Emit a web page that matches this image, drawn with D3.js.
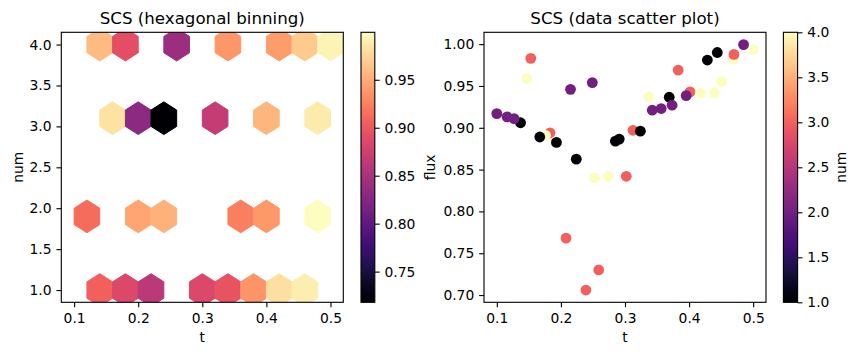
<!DOCTYPE html>
<html><head><meta charset="utf-8">
<script src="https://cdn.jsdelivr.net/npm/d3@7"></script>
<style>
body{margin:0;background:#fff;}
svg text{font-family:"DejaVu Sans",sans-serif;fill:#000;}
</style></head><body>
<svg id="chart" width="858" height="355"></svg>
<script>
// ---- data (drawing order as in the reference) ----
const tValues = [
  0.153,0.183,0.208,0.239,0.259,0.302,0.3125,0.383,0.4015,
  0.147,0.176,0.2525,0.2735,0.337,0.418,0.4395,0.451,0.469,0.500,
  0.470,
  0.137,0.167,0.193,0.224,0.285,0.291,0.324,0.369,0.4285,0.444,
  0.100,0.116,0.127,0.215,0.249,0.3425,0.3565,0.3735,0.3955,0.485
];
const fluxValues = [
  0.983,0.894,0.768,0.706,0.730,0.842,0.897,0.969,0.943,
  0.959,0.891,0.840,0.842,0.937,0.9415,0.9415,0.955,0.982,0.9935,
  0.9877,
  0.906,0.889,0.8825,0.8625,0.884,0.8865,0.896,0.9365,0.981,0.990,
  0.917,0.913,0.911,0.946,0.954,0.921,0.923,0.927,0.9385,0.9995
];
const numValues = [
  3,3,3,3,3,3,3,3,3,
  4,4,4,4,4,4,4,4,4,4,
  3,
  1,1,1,1,1,1,1,1,1,1,
  2,2,2,2,2,2,2,2,2,2
];
const gridSize = 10;
const tTicks = [0.1,0.2,0.3,0.4,0.5];
const numTicks = [1.0,1.5,2.0,2.5,3.0,3.5,4.0];
const fluxTicks = [0.70,0.75,0.80,0.85,0.90,0.95,1.00];
const hexCbarTicks = [0.75,0.80,0.85,0.90,0.95];
const numCbarTicks = [1.0,1.5,2.0,2.5,3.0,3.5,4.0];
const titles = ["SCS (hexagonal binning)", "SCS (data scatter plot)"];

// ---- layout ----
const PT = 100/72;
const TOP = 32.3, BOT = 302.3;
const AX1 = [61.3, 343.3], AX2 = [484.0, 766.0];
const CB1 = [361.0, 374.8], CB2 = [783.4, 797.6];
const TICK = 3.5*PT, PAD = 3.5*PT, LW = 0.8*PT;
const FS = 10*PT, TFS = 12*PT;

const svg = d3.select("#chart");

function padded(ext){ const m = (ext[1]-ext[0])*0.05; return [ext[0]-m, ext[1]+m]; }

// ---- hexbin (matplotlib algorithm, mean reduce) ----
function hexbin(xs, ys, cs, nx){
  let xmin = d3.min(xs), xmax = d3.max(xs), ymin = d3.min(ys), ymax = d3.max(ys);
  const px = 1e-9*(xmax-xmin); xmin -= px; xmax += px;
  const ny = Math.floor(nx/Math.sqrt(3));
  const sx = (xmax-xmin)/nx, sy = (ymax-ymin)/ny;
  const bins = new Map();
  xs.forEach((x0,i)=>{
    const x = (x0-xmin)/sx, y = (ys[i]-ymin)/sy;
    const ix1 = Math.round(x), iy1 = Math.round(y);
    const ix2 = Math.floor(x), iy2 = Math.floor(y);
    const d1 = (x-ix1)**2 + 3*(y-iy1)**2;
    const d2 = (x-ix2-0.5)**2 + 3*(y-iy2-0.5)**2;
    let key, cx, cy, lat;
    if (d1 < d2){ lat=0; key='a'+ix1+','+iy1; cx = xmin+ix1*sx; cy = ymin+iy1*sy; }
    else { lat=1; key='b'+ix2+','+iy2; cx = xmin+(ix2+0.5)*sx; cy = ymin+(iy2+0.5)*sy; }
    if(!bins.has(key)) bins.set(key,{cx,cy,lat,vals:[]});
    bins.get(key).vals.push(cs[i]);
  });
  const out = Array.from(bins.values()).map(b=>({cx:b.cx,cy:b.cy,lat:b.lat,v:d3.mean(b.vals)}));
  out.sort((a,b)=>a.lat-b.lat);
  const poly = [[.5,-.5],[.5,.5],[0,1],[-.5,.5],[-.5,-.5],[0,-1]].map(p=>[p[0]*sx, p[1]*sy/3]);
  return {bins:out, poly};
}

// ---- axes helper ----
function styleAxis(g){
  g.select(".domain").remove();
  g.selectAll(".tick line").attr("stroke","#000").attr("stroke-width",LW);
  g.selectAll(".tick text").attr("font-size",FS).attr("fill","#000").attr("font-family","DejaVu Sans, sans-serif");
}
function frame(x0,x1){
  svg.append("rect").attr("x",x0).attr("y",TOP).attr("width",x1-x0).attr("height",BOT-TOP)
    .attr("fill","none").attr("stroke","#000").attr("stroke-width",LW);
}

// ========== left: hexbin ==========
const x1 = d3.scaleLinear().domain(padded(d3.extent(tValues))).range(AX1);
const y1 = d3.scaleLinear().domain(padded(d3.extent(numValues))).range([BOT,TOP]);
const hb = hexbin(tValues, numValues, fluxValues, gridSize);
const hexExt = d3.extent(hb.bins, d=>d.v);
const hexColor = d3.scaleSequential(d3.interpolateMagma).domain(hexExt);

svg.append("clipPath").attr("id","clip1").append("rect")
  .attr("x",AX1[0]).attr("y",TOP).attr("width",AX1[1]-AX1[0]).attr("height",BOT-TOP);
svg.append("g").attr("clip-path","url(#clip1)").selectAll("path").data(hb.bins).join("path")
  .attr("d", d => "M" + hb.poly.map(p=>[x1(d.cx+p[0]), y1(d.cy+p[1])].join(",")).join("L") + "Z")
  .attr("fill", d=>hexColor(d.v)).attr("stroke", d=>hexColor(d.v)).attr("stroke-width",1);

const gx1 = svg.append("g").attr("transform",`translate(0,${BOT})`)
  .call(d3.axisBottom(x1).tickValues(tTicks).tickFormat(d3.format(".1f")).tickSize(TICK).tickPadding(PAD+1.2));
styleAxis(gx1);
const gy1 = svg.append("g").attr("transform",`translate(${AX1[0]},0)`)
  .call(d3.axisLeft(y1).tickValues(numTicks).tickFormat(d3.format(".1f")).tickSize(TICK).tickPadding(PAD));
styleAxis(gy1);
frame(AX1[0],AX1[1]);

// colorbar 1
const defs = svg.append("defs");
function gradient(id, interp){
  const lg = defs.append("linearGradient").attr("id",id).attr("x1",0).attr("y1",1).attr("x2",0).attr("y2",0);
  d3.range(0,1.0001,0.02).forEach(s=>lg.append("stop").attr("offset",s).attr("stop-color",interp(s)));
}
gradient("g1", d3.interpolateMagma);
svg.append("rect").attr("x",CB1[0]).attr("y",TOP).attr("width",CB1[1]-CB1[0]).attr("height",BOT-TOP)
  .attr("fill","url(#g1)");
const cb1 = d3.scaleLinear().domain(hexExt).range([BOT,TOP]);
const gc1 = svg.append("g").attr("transform",`translate(${CB1[1]},0)`)
  .call(d3.axisRight(cb1).tickValues(hexCbarTicks).tickFormat(d3.format(".2f")).tickSize(TICK).tickPadding(PAD));
styleAxis(gc1);
svg.append("rect").attr("x",CB1[0]).attr("y",TOP).attr("width",CB1[1]-CB1[0]).attr("height",BOT-TOP)
  .attr("fill","none").attr("stroke","#000").attr("stroke-width",LW);

// ========== right: scatter ==========
const x2 = d3.scaleLinear().domain(padded(d3.extent(tValues))).range(AX2);
const y2 = d3.scaleLinear().domain(padded(d3.extent(fluxValues))).range([BOT,TOP]);
const numColor = d3.scaleSequential(d3.interpolateMagma).domain([1,4]);
const pts = tValues.map((t,i)=>({t, f:fluxValues[i], n:numValues[i]}));
svg.append("g").selectAll("circle").data(pts).join("circle")
  .attr("cx",d=>x2(d.t)).attr("cy",d=>y2(d.f)).attr("r",5.4)
  .attr("fill",d=>numColor(d.n));

const gx2 = svg.append("g").attr("transform",`translate(0,${BOT})`)
  .call(d3.axisBottom(x2).tickValues(tTicks).tickFormat(d3.format(".1f")).tickSize(TICK).tickPadding(PAD+1.2));
styleAxis(gx2);
const gy2 = svg.append("g").attr("transform",`translate(${AX2[0]},0)`)
  .call(d3.axisLeft(y2).tickValues(fluxTicks).tickFormat(d3.format(".2f")).tickSize(TICK).tickPadding(PAD));
styleAxis(gy2);
frame(AX2[0],AX2[1]);

gradient("g2", d3.interpolateMagma);
svg.append("rect").attr("x",CB2[0]).attr("y",TOP).attr("width",CB2[1]-CB2[0]).attr("height",BOT-TOP)
  .attr("fill","url(#g2)");
const cb2 = d3.scaleLinear().domain([1,4]).range([BOT,TOP]);
const gc2 = svg.append("g").attr("transform",`translate(${CB2[1]},0)`)
  .call(d3.axisRight(cb2).tickValues(numCbarTicks).tickFormat(d3.format(".1f")).tickSize(TICK).tickPadding(PAD));
styleAxis(gc2);
svg.append("rect").attr("x",CB2[0]).attr("y",TOP).attr("width",CB2[1]-CB2[0]).attr("height",BOT-TOP)
  .attr("fill","none").attr("stroke","#000").attr("stroke-width",LW);

// ---- text labels ----
function label(txt,x,y,rot,size){
  const t = svg.append("text").attr("font-size",size).attr("text-anchor","middle").text(txt);
  if(rot) t.attr("transform",`translate(${x},${y}) rotate(-90)`); else t.attr("x",x).attr("y",y);
}
label(titles[0], (AX1[0]+AX1[1])/2, 24, false, TFS);
label(titles[1], (AX2[0]+AX2[1])/2, 24, false, TFS);
label("t", (AX1[0]+AX1[1])/2, 341.5, false, FS);
label("t", (AX2[0]+AX2[1])/2, 341.5, false, FS);
label("num", 22.5, (TOP+BOT)/2, true, FS);
label("flux", 434.5, (TOP+BOT)/2, true, FS);
label("num", 846, (TOP+BOT)/2, true, FS);
</script>
</body></html>
